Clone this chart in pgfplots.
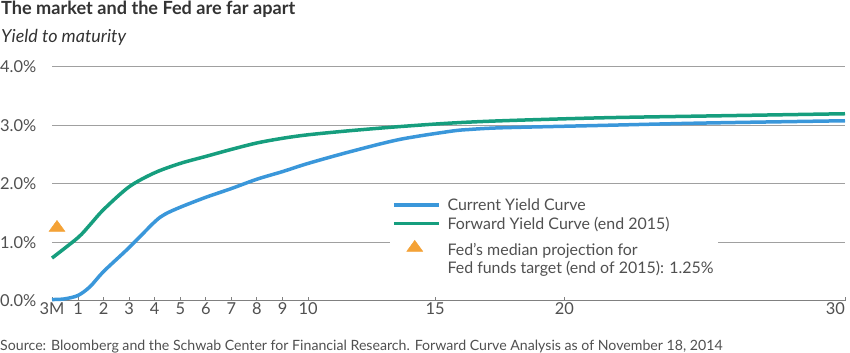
\documentclass[border=0pt]{standalone}
\usepackage{pgfplots}
\pgfplotsset{compat=1.18}
\usepackage{fontspec}
\setmainfont{Lato}
\definecolor{cblue}{HTML}{3A97DA}
\definecolor{cgreen}{HTML}{169E7E}
\definecolor{corange}{HTML}{F4A236}
\definecolor{gridc}{HTML}{A0A0A0}
\definecolor{axc}{HTML}{808080}
\definecolor{txt}{HTML}{505050}
\definecolor{ttl}{HTML}{333333}
\begin{document}
\begin{tikzpicture}
\path[use as bounding box] (-52bp,-52.3bp) rectangle (798bp,300.7bp);
\begin{axis}[
  scale only axis,
  width=793bp, height=233.7bp,
  x coord trafo/.code={\pgfmathparse{26*min(max(#1-0.25,0),0.75)/0.75 + 25.55*min(max(#1-1,0),9) + 25.4*min(max(#1-10,0),5) + 25.8*min(max(#1-15,0),5) + 28.05*min(max(#1-20,0),10)}},
  xmin=0.25, xmax=30,
  ymin=0, ymax=4,
  axis lines*=left,
  y axis line style={draw=none},
  ytick style={draw=none},
  x axis line style={axc, line width=1.3bp, -},
  xtick={0.25,1,2,3,4,5,6,7,8,9,10,15,20,30},
  xticklabels={3M,1,2,3,4,5,6,7,8,9,10,15,20,\hbox to 0pt{\hss 30}},
  xtick style={axc, line width=1bp},
  major tick length=4bp,
  xtick align=inside,
  xticklabel style={font=\fontsize{16.5}{16.5}\selectfont, text=txt, yshift=1.5bp},
  ytick={0,1,2,3,4},
  ymajorgrids,
  grid style={gridc, line width=1bp},
  yticklabel={\pgfmathprintnumber[fixed,fixed zerofill,precision=1,assume math mode=true]{\tick}\%},
  yticklabel style={font=\fontsize{16.5}{16.5}\selectfont, text=txt, anchor=west, inner sep=0pt, xshift=-52bp},
  clip=false,
  legend style={at={(0.426,0.455)}, anchor=north west, draw=none, fill=white,
    font=\fontsize{16}{18}\selectfont, text=txt, cells={anchor=west, align=left},
    row sep=1bp, column sep=5bp, inner sep=2bp},
  legend cell align=left,
]
\addplot[cblue, line width=3.5bp, smooth,
  legend image code/.code={\draw[cblue,line width=3.5bp] (0bp,0bp) -- (45bp,0bp);}]
coordinates {
(0.25,0.02) (0.6,0.03) (1,0.09) (1.47,0.24) (2,0.50) (3,0.91) (4,1.35) (4.4,1.48) (5,1.60) (6,1.77) (7,1.92)
(8,2.08) (9,2.21) (10,2.35) (11.65,2.55) (13.6,2.76) (15.6,2.90) (16.3,2.93) (17.6,2.96) (21.3,3.00)
(24.9,3.04) (30,3.08)};
\addlegendentry{Current Yield Curve}
\addplot[cgreen, line width=3.5bp, smooth,
  legend image code/.code={\draw[cgreen,line width=3.5bp] (0bp,0bp) -- (45bp,0bp);}]
coordinates {
(0.25,0.73) (1,1.08) (1.47,1.30) (2,1.56) (3,1.95) (4,2.19) (5,2.35) (6,2.47) (7,2.59) (8,2.70) (9,2.78)
(10,2.84) (11.65,2.91) (13.6,2.98) (15.6,3.04) (17.6,3.08) (21.3,3.13) (24.9,3.16) (30,3.20)};
\addlegendentry{Forward Yield Curve (end 2015)}
\addplot[only marks, mark=triangle*, mark size=7.3pt, color=corange,
  mark options={xscale=1.26, fill=corange, draw=none},
  legend image code/.code={\path[draw=none] (0bp,0bp) -- (45bp,0bp); \fill[corange] (13bp,4bp) -- (29bp,4bp) -- (21bp,15bp) -- cycle;}]
coordinates {(0.394,1.25)};
\addlegendentry{\rule{0pt}{20bp}Fed’s median projection for\\Fed funds target (end of 2015): 1.25\%}
\end{axis}
\node[anchor=base west, inner sep=0pt, text=ttl, font=\bfseries\fontsize{18.2}{18.2}\selectfont] at (-51bp,285.7bp) {The market and the Fed are far apart};
\node[anchor=base west, inner sep=0pt, text=ttl, font=\itshape\fontsize{18}{18}\selectfont] at (-51bp,257.7bp) {Yield to maturity};
\node[anchor=base west, inner sep=0pt, text=txt, font=\fontsize{14.2}{14.2}\selectfont] at (-52bp,-49.3bp) {Source: Bloomberg and the Schwab Center for Financial Research. Forward Curve Analysis as of November 18, 2014};
\end{tikzpicture}
\end{document}
